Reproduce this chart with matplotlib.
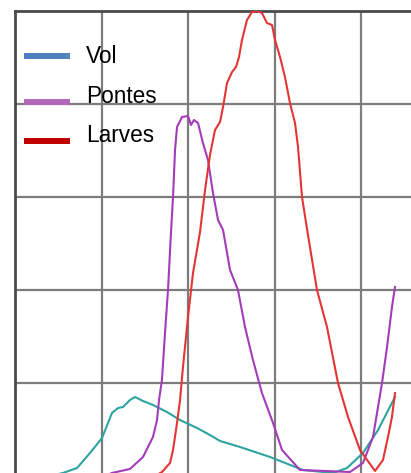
import matplotlib
matplotlib.use("Agg")
import matplotlib.pyplot as plt
from matplotlib.lines import Line2D

# data (x: one grid step = 10, y: one grid step = 20)
vol_x = [4.0, 5.55, 7.17, 8.67, 10.06, 11.21, 11.91, 12.49, 13.29, 13.87, 14.80,
         15.95, 17.57, 19.08, 21.04, 22.54, 23.70, 26.01, 29.48, 33.29, 36.76,
         38.38, 40.23, 41.97, 43.93]
vol_y = [0.0, 0.65, 1.72, 4.95, 8.17, 13.55, 14.62, 14.84, 16.34, 16.99, 16.13,
         15.27, 13.76, 12.04, 10.32, 8.82, 7.53, 6.24, 4.09, 1.29, 0.65,
         1.72, 4.95, 9.89, 16.99]

pontes_x = [10.40, 11.21, 13.29, 14.80, 15.95, 16.42, 16.65, 16.99, 17.34, 17.69,
            18.03, 18.27, 18.50, 18.73, 19.31, 20.0, 20.35, 20.69, 21.16, 21.73,
            22.31, 22.89, 23.47, 24.05, 24.86, 25.78, 26.59, 27.51, 28.55, 29.83,
            30.87, 32.95, 38.73, 40.23, 41.39, 42.43, 43.01, 43.58, 43.93]
pontes_y = [0.0, 0.65, 1.51, 4.09, 8.39, 12.04, 16.34, 20.65, 30.75, 40.0,
            52.26, 60.0, 70.11, 75.05, 77.20, 77.42, 75.48, 76.56, 75.91, 71.61,
            67.96, 60.86, 55.05, 52.90, 44.30, 40.0, 32.04, 24.95, 17.85, 11.40,
            5.59, 1.29, 0.86, 2.80, 8.39, 20.0, 27.74, 36.34, 40.65]

larves_x = [16.18, 16.99, 17.92, 18.27, 18.73, 19.08, 19.42, 20.0, 20.58, 21.39,
            21.97, 22.54, 23.12, 23.70, 24.05, 24.51, 25.09, 25.55, 25.90, 26.24,
            26.82, 27.40, 27.98, 28.55, 29.13, 29.71, 30.06, 30.64, 31.21, 31.79,
            32.37, 32.72, 33.18, 33.76, 34.91, 36.07, 37.34, 38.50, 39.88, 41.62,
            42.54, 43.12, 43.58, 43.93]
larves_y = [0.0, 0.86, 2.80, 5.59, 11.40, 16.34, 23.44, 34.19, 43.66, 52.47,
            61.51, 69.03, 74.41, 76.13, 79.35, 84.52, 86.88, 87.96, 90.11, 93.76,
            98.06, 99.78, 100.0, 99.57, 97.42, 96.99, 93.76, 90.11, 85.81, 80.22,
            75.91, 70.75, 60.0, 53.12, 40.0, 32.04, 20.0, 12.69, 5.59, 1.08,
            3.44, 8.39, 12.69, 17.85]

labels = ["Vol", "Pontes", "Larves"]
legend_colors = ["#4f81bd", "#b466bb", "#c00000"]
line_colors = ["#2ea3a0", "#a23cba", "#e43434"]

W, H = 411, 473
fig = plt.figure(figsize=(W / 100, H / 100), dpi=100)
ax = fig.add_axes([15 / W, 0, 1 - 15 / W, (H - 11) / H])

ax.plot(vol_x, vol_y, color=line_colors[0], lw=1.5, zorder=3)
ax.plot(pontes_x, pontes_y, color=line_colors[1], lw=1.5, zorder=3)
ax.plot(larves_x, larves_y, color=line_colors[2], lw=1.5, zorder=3)

ax.set_xlim(0, 396 / 8.65)
ax.set_ylim(3 / 4.65, 100)
ax.set_xticks([10, 20, 30, 40])
ax.set_yticks([20, 40, 60, 80])
ax.grid(True, color="#7c7c7c", lw=1.6)
ax.set_axisbelow(True)
ax.tick_params(length=0, labelleft=False, labelbottom=False)
for side in ["right", "bottom"]:
    ax.spines[side].set_visible(False)
for side in ["left", "top"]:
    ax.spines[side].set_color("#4a4a4a")
    ax.spines[side].set_linewidth(2)

# hand-placed legend (pixel positions from the top-left corner)
rows = [(55.7, 63), (102, 103), (141, 142)]
for (ly, ty), lab, col in zip(rows, labels, legend_colors):
    fig.add_artist(Line2D([24 / W, 70 / W], [1 - ly / H, 1 - ly / H],
                          color=col, lw=4.3, solid_capstyle="butt"))
    fig.text(86 / W, 1 - ty / H, lab, fontsize=16.3, family="Liberation Sans",
             va="baseline", ha="left", color="black")

fig.savefig("out.png", dpi=100)
